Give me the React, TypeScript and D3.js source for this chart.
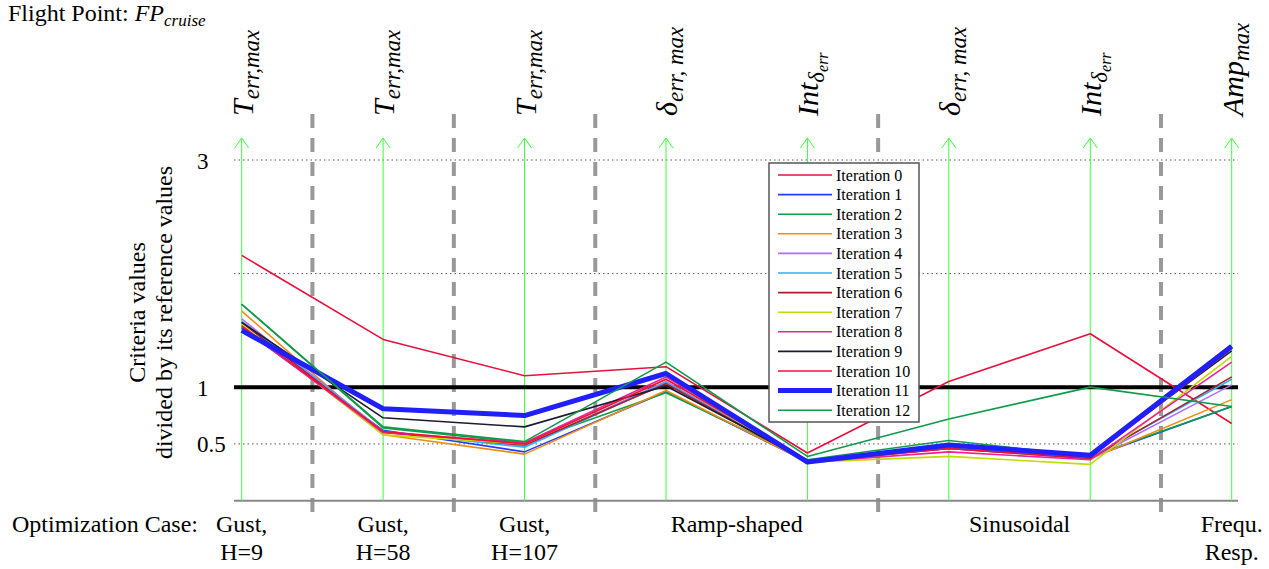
import * as d3 from 'd3';
import React from 'react';

// criteria axes (left to right)
const axisLabels: [string, number][][] = [
  [['T', 0], ['err,max', 1]],
  [['T', 0], ['err,max', 1]],
  [['T', 0], ['err,max', 1]],
  [['δ', 0], ['err, max', 1]],
  [['Int', 0], ['δ', 1], ['err', 2]],
  [['δ', 0], ['err, max', 1]],
  [['Int', 0], ['δ', 1], ['err', 2]],
  [['Amp', 0], ['max', 1]],
];

// optimization cases: label lines + first/last axis index
const caseLabels = [['Gust,', 'H=9'], ['Gust,', 'H=58'], ['Gust,', 'H=107'], ['Ramp-shaped'], ['Sinusoidal'], ['Frequ.', 'Resp.']];
const caseSpans = [[0, 0], [1, 1], [2, 2], [3, 4], [5, 6], [7, 7]];

const yTicks = [0.5, 1, 3];
const yGrid = [0.5, 2, 3];

const iterNames = d3.range(13).map((i) => `Iteration ${i}`);
const iterColors = ['#e8103c', '#1f3fff', '#0c9e4c', '#f08c10', '#b070ff', '#30b0ff', '#a8202c', '#c0dc00', '#f0209c', '#1c1c30', '#f0103c', '#2020ff', '#109a4a'];
const iterValues = [
  [2.16, 1.42, 1.10, 1.18, 0.42, 1.05, 1.47, 0.68],
  [1.52, 0.62, 0.43, 0.96, 0.34, 0.47, 0.38, 0.83],
  [1.73, 0.64, 0.51, 0.95, 0.36, 0.53, 0.39, 0.83],
  [1.67, 0.58, 0.41, 0.97, 0.34, 0.46, 0.37, 0.89],
  [1.60, 0.61, 0.48, 1.05, 0.34, 0.46, 0.37, 1.02],
  [1.58, 0.61, 0.47, 1.04, 0.34, 0.47, 0.38, 1.07],
  [1.57, 0.60, 0.49, 1.03, 0.34, 0.46, 0.37, 1.09],
  [1.55, 0.58, 0.50, 1.07, 0.34, 0.39, 0.32, 1.27],
  [1.53, 0.60, 0.51, 1.09, 0.34, 0.43, 0.36, 1.22],
  [1.57, 0.73, 0.65, 1.01, 0.35, 0.48, 0.40, 1.32],
  [1.54, 0.61, 0.50, 1.07, 0.35, 0.46, 0.38, 1.34],
  [1.50, 0.81, 0.75, 1.12, 0.34, 0.49, 0.40, 1.36],
  [1.73, 0.65, 0.52, 1.22, 0.39, 0.72, 1.00, 0.83],
];
const thickIter = 11;

const W = 1269;
const H = 569;
const serif = 'Liberation Serif, Times New Roman, Times, serif';

export default function App() {
  const x = d3.scalePoint<number>().domain(d3.range(axisLabels.length)).range([241.7, 1231.7]);
  const y = d3.scaleLinear().domain([0, 3]).range([500.7, 160]);
  const x0 = 234;
  const x1 = 1238;
  const line = d3.line<number>().x((_, i) => x(i)!).y((d) => y(d));

  // separators between cases
  const seps = caseSpans.slice(0, -1).map((s) => (x(s[1])! + x(s[1] + 1)!) / 2);

  const legX = 769, legY = 163, legW = 150, legH = 259, rowH = 19.6;

  const sizes = [30, 23, 16];
  const shifts = [0, 6, 4];

  return (
    <svg width={W} height={H} style={{ position: 'absolute', left: 0, top: 0, background: '#fff', fontFamily: serif }}>
      {/* title */}
      <text x={8} y={21} fontSize={24}>
        Flight Point:{' '}
        <tspan fontStyle="italic">FP</tspan>
        <tspan fontStyle="italic" fontSize={17} dy={5}>cruise</tspan>
      </text>

      {/* grid */}
      {yGrid.map((v) => (
        <line key={v} x1={x0} x2={x1} y1={y(v)} y2={y(v)} stroke="#555" strokeWidth={1} strokeDasharray="1.5,3" />
      ))}

      {/* case separators */}
      {seps.map((sx, i) => (
        <line key={i} x1={sx} x2={sx} y1={114} y2={514} stroke="#999" strokeWidth={4} strokeDasharray="14,10" />
      ))}

      {/* bottom axis */}
      <line x1={x0} x2={x1} y1={y(0)} y2={y(0)} stroke="#888" strokeWidth={2} />

      {/* criteria axes */}
      {axisLabels.map((_, i) => (
        <g key={i} stroke="#3dff3d" strokeWidth={1} fill="none">
          <line x1={x(i)} x2={x(i)} y1={y(0)} y2={138} />
          <polyline points={`${x(i)! - 7},148 ${x(i)},138 ${x(i)! + 7},148`} />
        </g>
      ))}

      {/* reference line */}
      <line x1={x0} x2={x1} y1={y(1)} y2={y(1)} stroke="#000" strokeWidth={4} />

      {/* iterations */}
      {iterValues.map((vals, k) => (
        <path key={k} d={line(vals)!} fill="none" stroke={iterColors[k]} strokeWidth={k === thickIter ? 5 : 1.6} strokeLinejoin="round" />
      ))}

      {/* y ticks */}
      {yTicks.map((v) => (
        <text key={v} x={197} y={y(v) + 8.5} fontSize={23}>{v}</text>
      ))}

      {/* y title */}
      <text transform="translate(145,312.5) rotate(-90)" textAnchor="middle" fontSize={24}>Criteria values</text>
      <text transform="translate(172,312.5) rotate(-90)" textAnchor="middle" fontSize={24}>divided by its reference values</text>

      {/* axis labels */}
      {axisLabels.map((parts, i) => (
        <text key={i} transform={`translate(${x(i)! + 11},116) rotate(-90)`} fontStyle="italic" fontSize={30}>
          {parts.map(([t, lvl], j) => (
            <tspan key={j} fontSize={sizes[lvl]} dy={lvl === 0 ? 0 : shifts[lvl]}>{t}</tspan>
          ))}
        </text>
      ))}

      {/* case labels */}
      <text x={12} y={532} fontSize={24}>Optimization Case:</text>
      {caseLabels.map((lines, i) => {
        const cx = (x(caseSpans[i][0])! + x(caseSpans[i][1])!) / 2;
        return lines.map((t, j) => (
          <text key={`${i}-${j}`} x={cx} y={532 + j * 28} textAnchor="middle" fontSize={24}>{t}</text>
        ));
      })}

      {/* legend */}
      <rect x={legX} y={legY} width={legW} height={legH} fill="#fff" stroke="#555" strokeWidth={1.5} />
      {iterNames.map((n, k) => {
        const ry = 175 + k * rowH;
        return (
          <g key={n}>
            <line x1={778} x2={832} y1={ry} y2={ry} stroke={iterColors[k]} strokeWidth={k === thickIter ? 5 : 1.6} />
            <text x={836} y={ry + 5.5} fontSize={16}>{n}</text>
          </g>
        );
      })}
    </svg>
  );
}
